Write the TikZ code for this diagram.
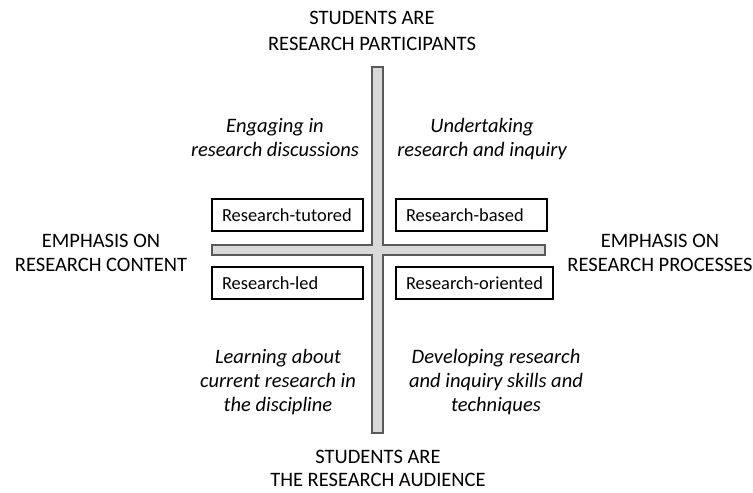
\documentclass[tikz,border=0pt]{standalone}
\usepackage{fontspec}
\setmainfont{Carlito}

\begin{document}
\begin{tikzpicture}[x=1pt, y=-1pt,
    pole/.style={align=center, font=\fontsize{20.5}{24}\selectfont},
    activity/.style={align=center, font=\fontsize{20.5}{24}\selectfont\itshape},
    stage/.style={draw, line width=1.5pt, minimum height=32pt, inner xsep=10pt,
        text width=131pt, align=left, font=\fontsize{18.4}{20}\selectfont}]
    \useasboundingbox (0,0) rectangle (753,493);
    % Cross
    \draw[fill=black!15, draw=black!65, line width=1.2pt]
        (372,67) -- (383,67) -- (383,245) -- (545,245) -- (545,255) -- (383,255)
        -- (383,433) -- (372,433) -- (372,255) -- (212,255) -- (212,245) -- (372,245) -- cycle;
    % Axis ends
    \node[pole, font=\fontsize{20.5}{26}\selectfont] (participants) at (372,31) {STUDENTS ARE\\RESEARCH PARTICIPANTS};
    \node[pole, font=\fontsize{20.5}{22.5}\selectfont] (audience) at (378,468.5) {STUDENTS ARE\\THE RESEARCH AUDIENCE};
    \node[pole] (content) at (101,252.5) {EMPHASIS ON\\RESEARCH CONTENT};
    \node[pole] (processes) at (660,252.5) {EMPHASIS ON\\RESEARCH PROCESSES};
    % Quadrants
    \node[stage] (tutored) at (287.5,215) {Research-tutored};
    \node[stage] (based) at (471.5,215) {Research-based};
    \node[stage] (led) at (287.5,283) {Research-led};
    \node[stage, text width=137pt] (oriented) at (474.5,283) {Research-oriented};
    \node[activity] (discussions) at (275,137.5) {Engaging in\\research discussions};
    \node[activity] (inquiry) at (482,139.5) {Undertaking\\research and inquiry};
    \node[activity] (current) at (278,382) {Learning about\\current research in\\the discipline};
    \node[activity] (skills) at (496,382.5) {Developing research\\and inquiry skills and\\techniques};
\end{tikzpicture}
\end{document}
